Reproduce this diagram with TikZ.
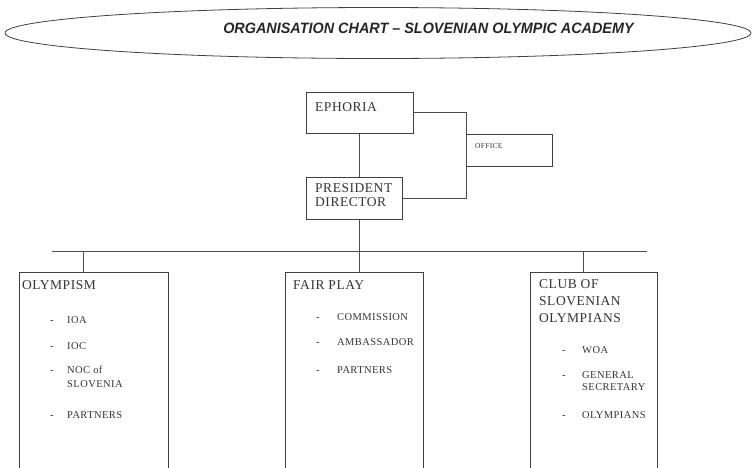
\documentclass[tikz,border=0pt]{standalone}
\usepackage{fontspec}
\setmainfont{Liberation Serif}[LetterSpace=4]
\newfontfamily\titlefont{Liberation Sans}
\usetikzlibrary{positioning,calc,shapes.geometric}

\begin{document}
\begin{tikzpicture}[x=1pt,y=-1pt,
    box/.style={draw=black!75, line width=0.8pt, anchor=north west,
        inner sep=0pt, minimum height=230pt},
    link/.style={draw=black!70, line width=0.9pt},
    head/.style={anchor=base west, inner sep=0pt, text=black!80,
        font=\fontsize{13.5}{14}\selectfont, align=left},
    entry/.style={anchor=base west, inner sep=0pt, text=black!80,
        font=\fontsize{10.5}{14}\selectfont, align=left}]
    \clip (0,0) rectangle (756,467);
    % title
    \node[draw=black!75, line width=0.8pt, ellipse,
    minimum width = 746pt,
    minimum height = 51pt] (banner) at (378,33) {};
    \node[anchor=base, inner sep=0pt, text=black!85] (title) at (428.5,33)
    {\scalebox{0.96}[1]{\titlefont\bfseries\itshape\fontsize{15}{17}\selectfont
        ORGANISATION CHART \textendash\ SLOVENIAN OLYMPIC ACADEMY}};
    % top of the chart
    \node[box, minimum width = 107pt, minimum height = 41pt] (ephoria) at (306,92) {};
    \node[box, minimum width = 96pt, minimum height = 42pt] (president) at (306,177) {};
    \node[box, minimum width = 86pt, minimum height = 32pt] (office) at (466,134) {};
    \node[head] (ephoriatxt) at (315,111) {EPHORIA};
    \node[head] (presidenttxt) at (315,206) {PRESIDENT\\DIRECTOR};
    \node[entry, font=\fontsize{7.5}{8}\selectfont] (officetxt) at (475,148) {OFFICE};
    % three branches
    \node[box, minimum width = 149pt] (olympism) at (19,272) {};
    \node[box, minimum width = 138pt] (fairplay) at (285,272) {};
    \node[box, minimum width = 127pt] (club) at (530,272) {};
    \coordinate (busL) at (52,251);
    \coordinate (busR) at (647,251);
    \path[link]
    (ephoria.south) -- (ephoria.south |- president.north)
    (ephoria.south |- president.south) -- (ephoria.south |- busL)
    (ephoria.east) -| (office.west |- president.east) -- (president.east)
    (busL) -- (busR)
    ($(olympism.north west)+(64,0)$) coordinate (dropL) -- (dropL |- busL)
    (ephoria.south |- fairplay.north) -- (ephoria.south |- busL)
    ($(club.north west)+(53,0)$) coordinate (dropR) -- (dropR |- busL);
    % OLYMPISM
    \node[head] (olympismtxt) at (22,289) {OLYMPISM};
    \foreach \y/\d/\t [count=\i] in {323/323/IOA, 349/349/IOC,
        387/373/{NOC of\\SLOVENIA}, 418/418/PARTNERS} {
        \node[entry] (olympismdash\i) at (50,\d) {-};
        \node[entry] (olympismitem\i) at (67,\y) {\t};
    }
    % FAIR PLAY
    \node[head] (fairplaytxt) at (293,289) {FAIR PLAY};
    \foreach \y/\t [count=\i] in {320/COMMISSION, 345/AMBASSADOR, 373/PARTNERS} {
        \node[entry] (fairplaydash\i) at (316,\y) {-};
        \node[entry] (fairplayitem\i) at (337,\y) {\t};
    }
    % CLUB OF SLOVENIAN OLYMPIANS
    \node[head, font=\fontsize{13.5}{17}\selectfont] (clubtxt) at (539,322)
    {CLUB OF\\SLOVENIAN\\OLYMPIANS};
    \foreach \y/\d/\t [count=\i] in {353/353/WOA, 390/378/{GENERAL\\[-2pt]SECRETARY},
        418/418/OLYMPIANS} {
        \node[entry] (clubdash\i) at (562,\d) {-};
        \node[entry] (clubitem\i) at (582,\y) {\t};
    }
\end{tikzpicture}
\end{document}
